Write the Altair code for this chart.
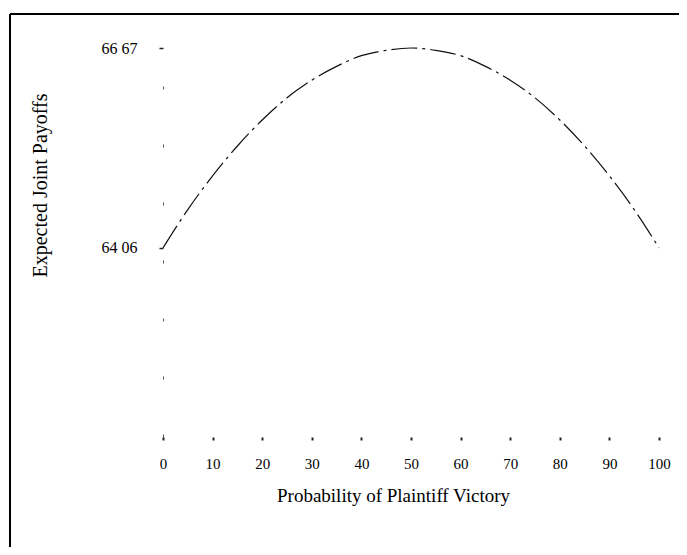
import altair as alt
import pandas as pd

# Probability of plaintiff victory (%) and expected joint payoffs
prob = [0, 5, 10, 15, 20, 25, 30, 35, 40, 45, 50, 55, 60, 65, 70, 75, 80, 85, 90, 95, 100]
payoff = [64.06, 64.56, 65.00, 65.39, 65.73, 66.02, 66.25, 66.43, 66.57, 66.64, 66.67,
          66.64, 66.57, 66.43, 66.25, 66.02, 65.73, 65.39, 65.00, 64.56, 64.06]
x_ticks = [0, 10, 20, 30, 40, 50, 60, 70, 80, 90, 100]
y_ticks = [64.06, 66.67]

df = pd.DataFrame({"p": prob, "v": payoff})
FONT = "Liberation Serif"

x_enc = alt.X("p:Q", scale=alt.Scale(domain=[0, 100], nice=False, zero=False),
              axis=alt.Axis(values=x_ticks, title="Probability of Plaintiff Victory",
                            domain=False, grid=False, tickSize=3, tickWidth=2,
                            tickColor="#222", labelPadding=16, labelFontSize=15,
                            labelFont=FONT, labelColor="black", titleFont=FONT,
                            titleFontSize=19, titleFontWeight="normal", titleColor="black",
                            titleX=230, titleY=58, titleBaseline="middle",
                            titleAnchor="start", titleAlign="center",
                            labelFlush=False))
y_enc = alt.Y("v:Q", scale=alt.Scale(domain=[61.59, 66.67], nice=False, zero=False),
              axis=alt.Axis(values=y_ticks, title="Expected Joint Payoffs",
                            labelExpr="replace(format(datum.value, '.2f'), '.', ' ')",
                            domain=True, domainColor="#555", domainDash=[3, 55],
                            domainWidth=1, grid=False, tickSize=4, tickWidth=1.5,
                            tickColor="#222", labelPadding=22, labelFontSize=16,
                            labelFont=FONT, labelColor="black", titleFont=FONT,
                            titleFontSize=20, titleFontWeight="normal", titleColor="black",
                            titleX=-123, titleY=137, titleAngle=-90,
                            titleBaseline="middle", titleAlign="center",
                            titleAnchor="start", labelFlush=False))

curve = alt.Chart(df).mark_line(color="#111", strokeWidth=1.2, strokeDash=[26, 5, 3, 5],
                                interpolate="monotone").encode(x=x_enc, y=y_enc)

frame_v = alt.Chart(df).mark_rule(color="black", strokeWidth=2).encode(
    x=alt.value(-153), y=alt.value(-34), y2=alt.value(520))
frame_h = alt.Chart(df).mark_rule(color="black", strokeWidth=2).encode(
    y=alt.value(-34), x=alt.value(-153), x2=alt.value(540))

chart = alt.layer(frame_v, frame_h, curve).properties(
    width=496, height=389,
    padding={"left": 155, "top": 40, "right": 20, "bottom": 110},
    autosize=alt.AutoSizeParams(type="none"),
).configure(background="white").configure_view(stroke=None, strokeWidth=0)

chart.save("out.html", embed_options={"renderer": "svg", "actions": False})
